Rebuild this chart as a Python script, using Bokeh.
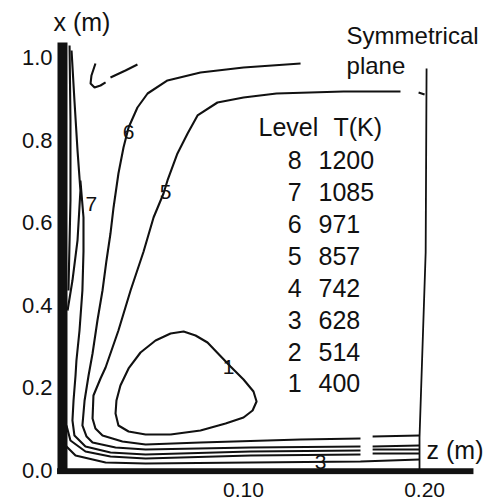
from bokeh.plotting import figure
from bokeh.models import ColumnDataSource, Label, FixedTicker, PrintfTickFormatter, Range1d
from bokeh.core.properties import value
from bokeh.embed import file_html
from bokeh.resources import INLINE

nan = float("nan")

# ---- data (z, x in metres) ----
levels = ["8", "7", "6", "5", "4", "3", "2", "1"]
temps_K = [1200, 1085, 971, 857, 742, 628, 514, 400]

x_ticks = [0.10, 0.20]
y_ticks = [0.0, 0.2, 0.4, 0.6, 0.8, 1.0]

# level 8: hot walls
wall_z = [0.0, 0.0]
wall_x = [1.036, -0.004]
floor_z = [-0.003, 0.227]
floor_x = [-0.002, -0.002]

# level 1 (closed loop)
c1_z = [0.0597, 0.0762, 0.0901, 0.1000, 0.1050, 0.1072, 0.1055, 0.1000, 0.0928, 0.0801, 0.0735,
        0.0669, 0.0597, 0.0514, 0.0431, 0.0365, 0.0320, 0.0298, 0.0293, 0.0309, 0.0365, 0.0459, 0.0597]
c1_x = [0.0872, 0.0969, 0.1138, 0.1283, 0.1453, 0.1671, 0.1913, 0.2203, 0.2518, 0.3099, 0.3269,
        0.3366, 0.3317, 0.3148, 0.2857, 0.2470, 0.2058, 0.1695, 0.1380, 0.1090, 0.0944, 0.0872, 0.0872]

# level 5
c5_z = [0.1867, 0.1552, 0.1182, 0.1000, 0.0856, 0.0746, 0.0691, 0.0635, 0.0580, 0.0558, 0.0503,
        0.0448, 0.0376, 0.0309, 0.0238, 0.0210, 0.0171, 0.0166, 0.0182, 0.0221, 0.0331, 0.0459,
        0.0762, 0.1315, 0.1646, nan, 0.1713, 0.1972, nan, 0.1967, 0.2000]
c5_x = [0.9177, 0.9177, 0.9128, 0.9031, 0.8910, 0.8596, 0.8160, 0.7676, 0.7022, 0.6707, 0.6126,
        0.5303, 0.4358, 0.3390, 0.2494, 0.2228, 0.1816, 0.1259, 0.1017, 0.0847, 0.0702, 0.0630,
        0.0678, 0.0751, 0.0775, nan, 0.0823, 0.0847, nan, 0.9153, 0.9104]

# level 6
c6_z = [0.1315, 0.1000, 0.0762, 0.0580, 0.0470, 0.0414, 0.0365, 0.0337, 0.0309, 0.0282, 0.0265,
        0.0243, 0.0221, 0.0193, 0.0166, 0.0144, 0.0122, 0.0110, 0.0133, 0.0166, 0.0293, 0.0459,
        0.1039, 0.1646, nan, 0.1713, 0.1972]
c6_x = [0.9855, 0.9758, 0.9637, 0.9443, 0.9128, 0.8789, 0.8305, 0.7821, 0.7191, 0.6368, 0.5738,
        0.5085, 0.4358, 0.3632, 0.2833, 0.2300, 0.1695, 0.1090, 0.0823, 0.0678, 0.0557, 0.0508,
        0.0557, 0.0581, nan, 0.0581, 0.0605]

# level 7
c7_z = [0.0099, 0.0116, 0.0116, 0.0110, 0.0094, 0.0077, 0.0072, 0.0061, 0.0055, 0.0066, 0.0127,
        0.0265, 0.0459, 0.1039, 0.1646, nan, 0.1713, 0.1972]
c7_x = [0.7022, 0.6126, 0.5303, 0.4358, 0.3390, 0.2663, 0.2300, 0.1695, 0.1211, 0.0847, 0.0581,
        0.0436, 0.0387, 0.0460, 0.0484, nan, 0.0508, 0.0508]

# contours hugging the hot wall
c7b_z = [0.0050, 0.0066, 0.0083, 0.0099, 0.0083, 0.0055, 0.0028, nan, 0.0022, 0.0044, 0.0127,
         0.0265, 0.0459, 0.1039, 0.1646, nan, 0.1713, 0.1972]
c7b_x = [1.0169, 0.8959, 0.7748, 0.6780, 0.5569, 0.4600, 0.3874, nan, 0.1090, 0.0726, 0.0460,
         0.0339, 0.0291, 0.0363, 0.0387, nan, 0.0412, 0.0412]

c8_z = [0.0039, 0.0044, 0.0044, 0.0033]
c8_x = [1.0291, 0.8475, 0.6538, 0.4358]

# level 3 (bottom)
c3_z = [0.0000, 0.0072, 0.0238, 0.0459, 0.1039, 0.1646, 0.1972]
c3_x = [0.0678, 0.0363, 0.0194, 0.0169, 0.0194, 0.0218, 0.0266]

# small fragment near the top corner
cf_z = [0.0182, 0.0160, 0.0155, 0.0177, 0.0210, 0.0238, nan, 0.0265, 0.0348, 0.0414]
cf_x = [0.9855, 0.9564, 0.9370, 0.9274, 0.9322, 0.9395, nan, 0.9516, 0.9685, 0.9831]

# symmetrical plane
sym_z = [0.2011, 0.2006, 0.1972, 0.1972]
sym_x = [0.9734, 0.5278, 0.0799, 0.0000]

# contour labels
lab_text = ["6", "5", "7", "1", "3"]
lab_z = [0.0365, 0.0569, 0.0160, 0.0917, 0.1425]
lab_x = [0.8184, 0.6731, 0.6441, 0.2494, 0.0194]

FONT = "Liberation Sans"
INK = "#111111"

p = figure(width=486, height=504, x_range=Range1d(-0.00552, 0.2331), y_range=Range1d(-0.00969, 1.1186),
           output_backend="svg", toolbar_location=None,
           min_border_left=52, min_border_right=2, min_border_top=8, min_border_bottom=30)
p.grid.visible = False
p.outline_line_color = None
p.background_fill_color = "white"
p.border_fill_color = "white"

# axes
p.yaxis.ticker = FixedTicker(ticks=y_ticks)
p.yaxis.formatter = PrintfTickFormatter(format="%.1f")
p.yaxis.axis_line_color = None
p.yaxis.major_tick_out = 0
p.yaxis.major_tick_in = 0
p.yaxis.minor_tick_out = 0
p.yaxis.minor_tick_in = 0
p.yaxis.major_label_standoff = 0
p.yaxis.major_label_text_font = FONT
p.yaxis.major_label_text_font_size = "22px"
p.yaxis.major_label_text_color = INK

p.xaxis.ticker = FixedTicker(ticks=x_ticks)
p.xaxis.formatter = PrintfTickFormatter(format="%.2f")
p.xaxis.axis_line_color = None
p.xaxis.major_tick_out = 0
p.xaxis.major_tick_in = 0
p.xaxis.minor_tick_out = 0
p.xaxis.minor_tick_in = 0
p.xaxis.major_label_standoff = 8
p.xaxis.major_label_text_font = FONT
p.xaxis.major_label_text_font_size = "21px"
p.xaxis.major_label_text_color = INK

# walls
p.line(wall_z, wall_x, line_color=INK, line_width=10)
p.line(floor_z, floor_x, line_color=INK, line_width=6)

lw = 2.1
for zs, xs in [(c1_z, c1_x), (c5_z, c5_x), (c6_z, c6_x), (c7_z, c7_x), (c7b_z, c7b_x),
               (c8_z, c8_x), (c3_z, c3_x), (cf_z, cf_x)]:
    p.line(zs, xs, line_color=INK, line_width=lw)
p.line(sym_z, sym_x, line_color=INK, line_width=1.8)

p.text(x=lab_z, y=lab_x, text=lab_text, text_font=value(FONT), text_font_size=value("21px"),
       text_color=INK, text_align="center", text_baseline="middle")

# level table
hdr_x = 0.8305
row0 = 0.7506
dy = 0.0771
rows_y = [row0 - i * dy for i in range(len(levels))]
tsrc = ColumnDataSource(dict(lv=levels, tk=[str(t) for t in temps_K], y=rows_y,
                             zl=[0.1282] * len(levels), zt=[0.1414] * len(levels)))
p.text(x="zl", y="y", text="lv", source=tsrc, text_font=value(FONT), text_font_size=value("25px"),
       text_color=INK, text_align="center", text_baseline="middle")
p.text(x="zt", y="y", text="tk", source=tsrc, text_font=value(FONT), text_font_size=value("25px"),
       text_color=INK, text_align="left", text_baseline="middle")
p.text(x=[0.1083, 0.1497], y=[hdr_x, hdr_x], text=["Level", "T(K)"], text_font=value(FONT),
       text_font_size=value("25px"), text_color=INK, text_align="left", text_baseline="middle")

for txt, zx, xx, base, size in [("x (m)", -0.005, 1.087, "middle", "25px"),
                                ("Symmetrical", 0.1569, 1.053, "alphabetic", "24px"),
                                ("plane", 0.1569, 0.9806, "alphabetic", "24px"),
                                ("z (m)", 0.2011, 0.0508, "middle", "25px")]:
    p.add_layout(Label(x=zx, y=xx, text=txt, text_font=FONT, text_font_size=size,
                       text_color=INK, text_align="left", text_baseline=base))

open("out.html", "w").write(file_html(p, INLINE))
